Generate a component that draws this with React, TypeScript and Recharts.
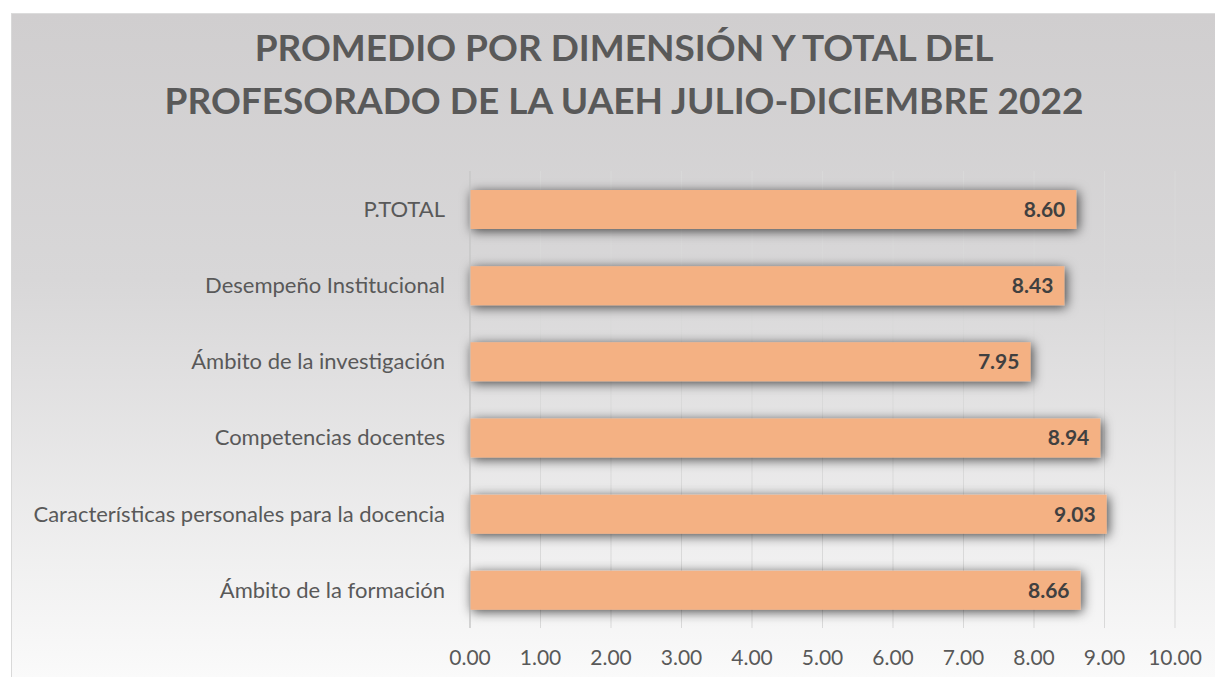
import { BarChart, Bar, XAxis, YAxis, CartesianGrid, LabelList } from "recharts";

const dimensiones = [
  "P.TOTAL",
  "Desempeño Institucional",
  "Ámbito de la investigación",
  "Competencias docentes",
  "Características personales para la docencia",
  "Ámbito de la formación",
];
const promedios = [8.6, 8.43, 7.95, 8.94, 9.03, 8.66];
const ticksX = [0, 1, 2, 3, 4, 5, 6, 7, 8, 9, 10];
const tituloLineas = [
  "PROMEDIO POR DIMENSIÓN Y TOTAL DEL",
  "PROFESORADO DE LA UAEH JULIO-DICIEMBRE 2022",
];

const data = dimensiones.map((name, i) => ({ name, valor: promedios[i] }));

const FONT = "Lato, 'Noto Sans', sans-serif";

export default function App() {
  return (
    <div
      style={{
        position: "absolute",
        left: 11,
        top: 13,
        width: 1204,
        height: 664,
        background: "linear-gradient(to bottom, #d0cecf 0%, #d8d7d8 40%, #fafafa 100%)",
        borderLeft: "1px solid #d9d9d9",
        borderTop: "1px solid #dcdcdc",
        boxSizing: "border-box",
        fontFamily: FONT,
      }}
    >
      <svg width={0} height={0} style={{ position: "absolute" }}>
        <defs>
          <filter id="barShadow" x="-10%" y="-60%" width="120%" height="220%">
            <feDropShadow dx="2" dy="2" stdDeviation="6" floodColor="#000" floodOpacity="0.7" />
          </filter>
        </defs>
      </svg>
      <div
        style={{
          position: "absolute",
          top: 6,
          left: 10,
          width: 1204,
          textAlign: "center",
          color: "#595959",
          fontWeight: 700,
          fontSize: 37,
          lineHeight: "53px",
        }}
      >
        {tituloLineas.map((t) => (
          <div key={t}>{t}</div>
        ))}
      </div>
      <BarChart
        layout="vertical"
        width={1203}
        height={663}
        data={data}
        margin={{ top: 157, right: 40, bottom: 19, left: 0 }}
        barSize={39}
      >
        <CartesianGrid horizontal={false} stroke="#d9d9d9" />
        <XAxis
          type="number"
          domain={[0, 10]}
          ticks={ticksX}
          tickFormatter={(v: number) => v.toFixed(2)}
          axisLine={false}
          tickLine={false}
          height={30}
          tick={{ fill: "#595959", fontSize: 21, fontFamily: FONT }}
          tickMargin={16}
          interval={0}
        />
        <YAxis
          type="category"
          dataKey="name"
          width={458}
          axisLine={{ stroke: "#bfbfbf" }}
          tickLine={false}
          tick={{ fill: "#595959", fontSize: 22, fontFamily: FONT }}
          tickMargin={19}
        />
        <Bar
          dataKey="valor"
          fill="#f4b183"
          isAnimationActive={false}
          style={{ filter: "url(#barShadow)" }}
        >
          <LabelList
            dataKey="valor"
            position="insideRight"
            offset={11}
            formatter={(v: number) => v.toFixed(2)}
            style={{ fill: "#404040", fontWeight: 700, fontSize: 21, fontFamily: FONT }}
          />
        </Bar>
      </BarChart>
    </div>
  );
}
